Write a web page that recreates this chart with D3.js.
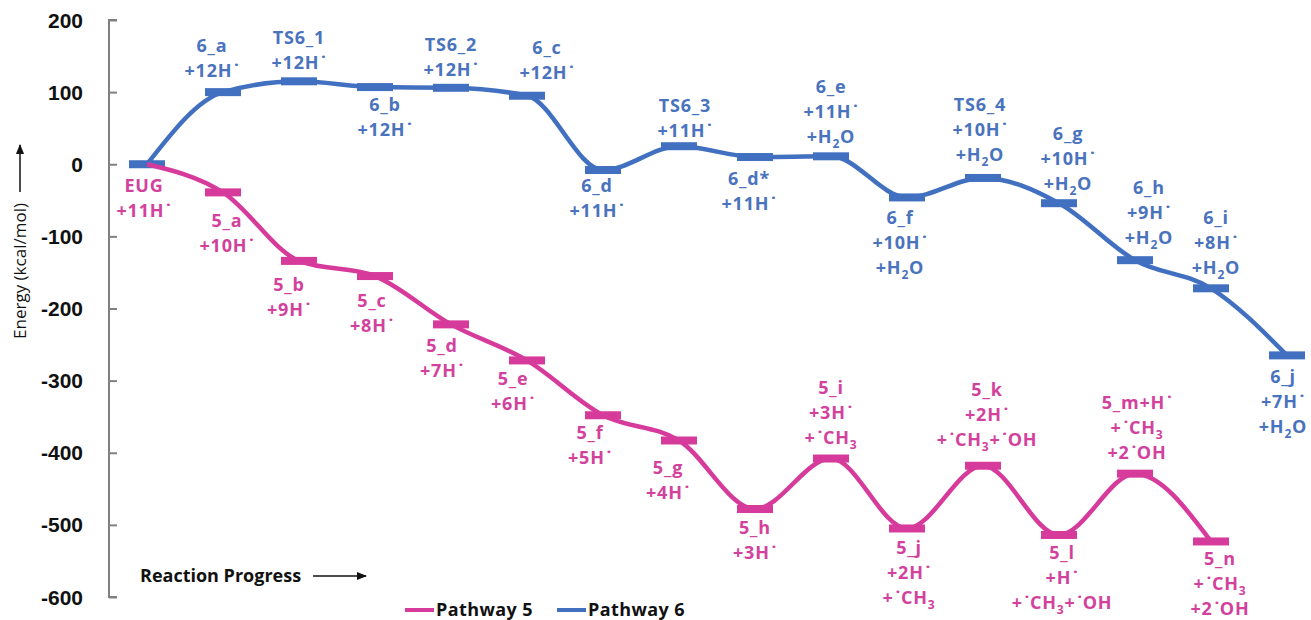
<!DOCTYPE html>
<html>
<head>
<meta charset="utf-8">
<script src="https://cdn.jsdelivr.net/npm/d3@7"></script>
<style>
  html, body { margin: 0; padding: 0; background: #fff; }
  svg { display: block; }
</style>
</head>
<body>
<svg id="chart" width="1311" height="620"></svg>
<script>
// ---------------- DATA ----------------
const yTicks = [200, 100, 0, -100, -200, -300, -400, -500, -600];

const pw6Names = ["EUG","6_a","TS6_1","6_b","TS6_2","6_c","6_d","TS6_3","6_d*","6_e","6_f","TS6_4","6_g","6_h","6_i","6_j"];
const pw6Energy = [0, 100, 115, 107, 106, 95, -8, 25, 10, 11, -46, -19, -54, -133, -172, -265];
const pw6Labels = [
  null,
  ["6_a", "+12H•"],
  ["TS6_1", "+12H•"],
  ["6_b", "+12H•"],
  ["TS6_2", "+12H•"],
  ["6_c", "+12H•"],
  ["6_d", "+11H•"],
  ["TS6_3", "+11H•"],
  ["6_d*", "+11H•"],
  ["6_e", "+11H•", "+H₂O"],
  ["6_f", "+10H•", "+H₂O"],
  ["TS6_4", "+10H•", "+H₂O"],
  ["6_g", "+10H•", "+H₂O"],
  ["6_h", "+9H•", "+H₂O"],
  ["6_i", "+8H•", "+H₂O"],
  ["6_j", "+7H•", "+H₂O"]
];
const pw6Side = ["below","above","above","below","above","above","below","above","below","above","below","above","above","above","above","below"];

const pw5Names = ["EUG","5_a","5_b","5_c","5_d","5_e","5_f","5_g","5_h","5_i","5_j","5_k","5_l","5_m+H","5_n"];
const pw5Energy = [0, -39, -134, -155, -222, -272, -348, -383, -478, -408, -505, -418, -514, -429, -523];
const pw5Labels = [
  ["EUG", "+11H•"],
  ["5_a", "+10H•"],
  ["5_b", "+9H•"],
  ["5_c", "+8H•"],
  ["5_d", "+7H•"],
  ["5_e", "+6H•"],
  ["5_f", "+5H•"],
  ["5_g", "+4H•"],
  ["5_h", "+3H•"],
  ["5_i", "+3H•", "+•CH₃"],
  ["5_j", "+2H•", "+•CH₃"],
  ["5_k", "+2H•", "+•CH₃+•OH"],
  ["5_l", "+H•", "+•CH₃+•OH"],
  ["5_m+H•", "+•CH₃", "+2•OH"],
  ["5_n", "+•CH₃", "+2•OH"]
];
const pw5Side = ["below","below","below","below","below","below","below","below","below","above","below","above","below","above","below"];

const seriesNames = ["Pathway 5", "Pathway 6"];

// ---------------- LAYOUT / STYLE ----------------
const W = 1311, H = 620;
const BLUE = "#4270C0", PINK = "#D63B9B";
const BLUE_TXT = "#4A73BD", PINK_TXT = "#D2429D";
const labelFS = 18, lineGap = 25;
// per-label nudges [dx, dy] (layout only)
const labelNudge = {
  "6_a":[-11,-1], "TS6_1":[0,2], "6_b":[10,-3], "TS6_2":[0,3], "6_c":[20,-2],
  "6_d":[-6,-5], "TS6_3":[6,5], "6_d*":[-6,1], "6_e":[0,1], "6_f":[-7,0],
  "TS6_4":[-3,-2], "6_g":[9,1], "6_h":[14,-2], "6_i":[5,0], "6_j":[-4,1],
  "EUG":[-3,1], "5_a":[4,8], "5_b":[-10,4], "5_c":[-3,4], "5_d":[-9,1], "5_e":[-14,-2],
  "5_f":[-13,-3], "5_g":[-11,7], "5_h":[0,-2], "5_i":[0,0], "5_j":[2,-1], "5_k":[4,-5],
  "5_l":[3,-2], "5_m+H":[2,0], "5_n":[9,-3]
};

const svg = d3.select("#chart");

const x = d3.scaleLinear().domain([0, 15]).range([147, 1287]);
const y = d3.scaleLinear().domain([-600, 200]).range([597, 20]);

// ---------------- AXIS ----------------
const axisG = svg.append("g").attr("transform", "translate(109,0)");
axisG.call(d3.axisRight(y).tickValues(yTicks).tickSize(8).tickFormat(""));
axisG.select(".domain").attr("stroke", "#808080").attr("stroke-width", 2)
  .attr("d", `M8,${y(200)}H0V${y(-600)}H8`);
axisG.selectAll(".tick line").attr("stroke", "#808080").attr("stroke-width", 2);

svg.append("g").selectAll("text").data(yTicks).join("text")
  .attr("x", 83).attr("y", d => y(d)).attr("dy", "0.36em")
  .attr("text-anchor", "end")
  .attr("font-family", "'Liberation Sans', Arial, sans-serif")
  .attr("font-weight", 700).attr("font-size", 21).attr("fill", "#111")
  .text(d => d);

// y title with arrow
const yt = svg.append("g").attr("transform", "translate(20,271) rotate(-90)");
yt.append("text").attr("text-anchor", "middle").attr("dy", "0.35em")
  .attr("font-family", "'Open Sans', sans-serif").attr("font-size", 17)
  .attr("fill", "#111").text("Energy (kcal/mol)");
svg.append("defs").append("marker").attr("id", "arr")
  .attr("viewBox", "0 0 10 10").attr("refX", 9).attr("refY", 5)
  .attr("markerWidth", 7).attr("markerHeight", 7).attr("orient", "auto")
  .append("path").attr("d", "M0,1L10,5L0,9z").attr("fill", "#111");
svg.append("line").attr("x1", 20).attr("x2", 20).attr("y1", 192).attr("y2", 145)
  .attr("stroke", "#111").attr("stroke-width", 1.5).attr("marker-end", "url(#arr)");

// x title
svg.append("text").attr("x", 140).attr("y", 576).attr("dy", "0.35em")
  .attr("font-family", "'Open Sans', sans-serif").attr("font-weight", 700)
  .attr("font-size", 18).attr("fill", "#111").text("Reaction Progress");
svg.append("line").attr("x1", 313).attr("x2", 366).attr("y1", 576).attr("y2", 576)
  .attr("stroke", "#111").attr("stroke-width", 1.5).attr("marker-end", "url(#arr)");

// ---------------- SERIES ----------------
const line = d3.line().x(d => x(d.i)).y(d => y(d.v)).curve(d3.curveMonotoneX);

function richText(sel, str) {
  let cur = 0;
  const parts = [];
  let buf = "";
  for (const ch of str) {
    if (ch === "•" || ch === "₂" || ch === "₃") {
      if (buf) { parts.push({t: buf, k: "n"}); buf = ""; }
      if (ch === "•") parts.push({t: "˙", k: "sup"});
      else parts.push({t: ch === "₂" ? "2" : "3", k: "sub"});
    } else buf += ch;
  }
  if (buf) parts.push({t: buf, k: "n"});
  parts.forEach(p => {
    const target = p.k === "sub" ? 5 : 0;
    const ts = sel.append("tspan").attr("dy", target - cur).text(p.t);
    if (p.k === "sub") ts.attr("font-size", 12);
    if (p.k === "sup") ts.attr("dx", 2).attr("font-size", 18);
    cur = target;
  });
}

function drawSeries(energy, names, labels, side, color, txtColor, skipFirstBar) {
  const pts = energy.map((v, i) => ({i, v}));
  const g = svg.append("g");
  g.append("path").datum(pts).attr("d", line)
    .attr("fill", "none").attr("stroke", color).attr("stroke-width", 4.5);
  g.selectAll("rect").data(pts.filter((d, i) => !(skipFirstBar && i === 0))).join("rect")
    .attr("x", d => x(d.i) - 18).attr("y", d => y(d.v) - 4)
    .attr("width", 36).attr("height", 8).attr("fill", color);
  const lg = svg.append("g")
    .attr("font-family", "'Open Sans', sans-serif").attr("font-weight", 700)
    .attr("font-size", labelFS).attr("letter-spacing", "0.8px").attr("fill", txtColor)
    .attr("text-anchor", "middle");
  labels.forEach((lines, i) => {
    if (!lines) return;
    const key = names[i];
    const nd = labelNudge[key] || [0, 0];
    const cx = x(i) + nd[0];
    const by = y(energy[i]);
    let firstCenter;
    if (side[i] === "above") firstCenter = by - 21 + nd[1] - (lines.length - 1) * lineGap;
    else firstCenter = by + 20 + nd[1];
    lines.forEach((s, k) => {
      const t = lg.append("text").attr("x", cx).attr("y", firstCenter + k * lineGap + 6.5);
      richText(t, s);
    });
  });
}

drawSeries(pw6Energy, pw6Names, pw6Labels, pw6Side, BLUE, BLUE_TXT, false);
drawSeries(pw5Energy, pw5Names, pw5Labels, pw5Side, PINK, PINK_TXT, true);

// ---------------- LEGEND ----------------
const legend = svg.append("g");
const legItems = [
  {name: seriesNames[0], color: PINK, x: 405},
  {name: seriesNames[1], color: BLUE, x: 557}
];
legItems.forEach(d => {
  legend.append("line").attr("x1", d.x).attr("x2", d.x + 29).attr("y1", 610).attr("y2", 610)
    .attr("stroke", d.color).attr("stroke-width", 4);
  legend.append("text").attr("x", d.x + 31).attr("y", 610).attr("dy", "0.36em")
    .attr("font-family", "'Open Sans', sans-serif").attr("font-weight", 700)
    .attr("font-size", 18).attr("letter-spacing", "0.4px").attr("fill", "#111").text(d.name);
});
</script>
</body>
</html>
